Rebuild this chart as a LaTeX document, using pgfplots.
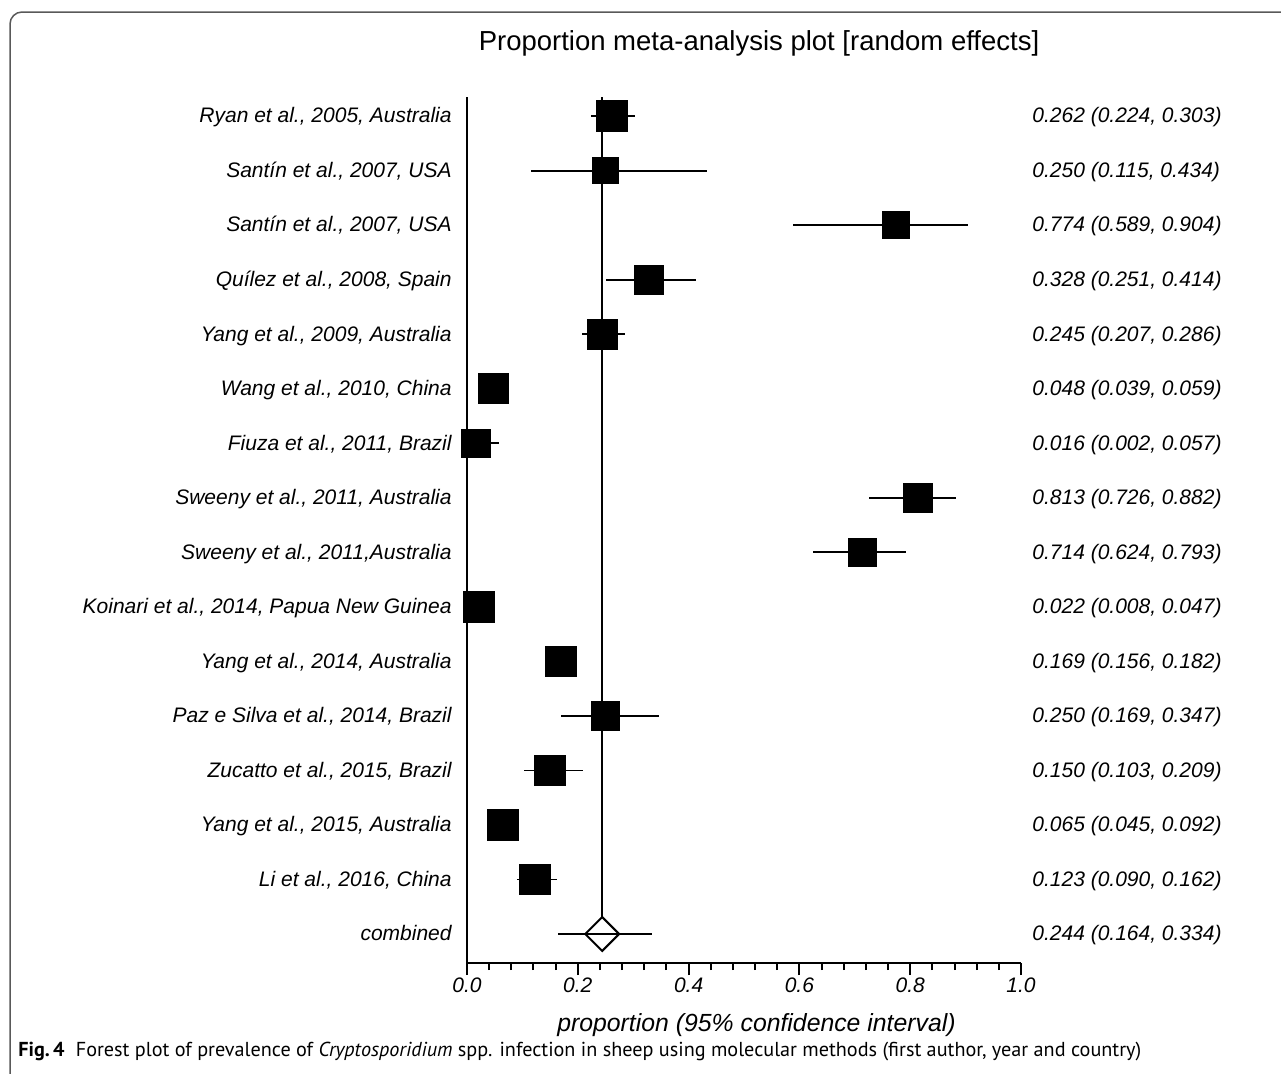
\documentclass[border=0pt]{standalone}
\usepackage{fontspec}
\setmainfont{Liberation Sans}
\newfontfamily\capfont{PT Sans}
\usepackage{pgfplots}
\pgfplotsset{compat=1.18}
\usepackage{pgfplotstable}

\pgfplotstableread{
y  est   lo    hi    s
16 0.262 0.224 0.303 7.70
15 0.250 0.115 0.434 6.45
14 0.774 0.589 0.904 6.65
13 0.328 0.251 0.414 7.25
12 0.245 0.207 0.286 7.55
11 0.048 0.039 0.059 7.55
10 0.016 0.002 0.057 7.15
9  0.813 0.726 0.882 7.25
8  0.714 0.624 0.793 7.15
7  0.022 0.008 0.047 7.70
6  0.169 0.156 0.182 7.65
5  0.250 0.169 0.347 7.15
4  0.150 0.103 0.209 7.65
3  0.065 0.045 0.092 7.65
2  0.123 0.090 0.162 7.70
}\studies

\pgfplotstableread{
y est   lo    hi
1 0.244 0.164 0.334
}\combined

\newcommand\lbl{\fontsize{10.5}{12.6}\selectfont\itshape}

\pgfplotsset{
  geom/.style={
    at={(233.5pt,-481.5pt)}, anchor=south west,
    scale only axis, width=277pt, height=433pt,
    xmin=0, xmax=1, ymin=0.468, ymax=16.35,
    clip=false,
  }
}

\begin{document}
\begin{tikzpicture}
\useasboundingbox (0pt,0pt) rectangle (640.5pt,-536.5pt);
\begin{scope}
\clip (0pt,0pt) rectangle (640.5pt,-536.5pt);
\draw[color=black!65, line width=0.75pt, rounded corners=6pt] (5pt,-560pt) -- (5pt,-6pt) -- (680pt,-6pt);
\end{scope}

% main axis
\begin{axis}[geom,
  axis x line*=bottom, axis y line*=left,
  axis line style={line width=1pt, black},
  ytick=\empty,
  xtick={0,0.2,0.4,0.6,0.8,1},
  minor x tick num=4,
  tick align=outside,
  major tick length=6pt, minor tick length=3.5pt,
  tick style={line width=1pt, black},
  xticklabel style={font=\lbl, inner sep=1pt},
  /pgf/number format/fixed,
  /pgf/number format/fixed zerofill,
  /pgf/number format/precision=1,
  /pgf/number format/assume math mode=true,
]
% confidence intervals
\addplot[draw=none, mark=none,
  error bars/.cd, x dir=both, x explicit, error mark=none,
  error bar style={draw=black, line width=0.9pt}]
  table[x=est, y=y,
        x error plus expr=\thisrow{hi}-\thisrow{est},
        x error minus expr=\thisrow{est}-\thisrow{lo}] {\studies};
\addplot[draw=none, mark=none,
  error bars/.cd, x dir=both, x explicit, error mark=none,
  error bar style={draw=black, line width=0.9pt}]
  table[x=est, y=y,
        x error plus expr=\thisrow{hi}-\thisrow{est},
        x error minus expr=\thisrow{est}-\thisrow{lo}] {\combined};
% vertical line at pooled estimate
\addplot[black, line width=1pt, mark=none] coordinates {(0.244,16.35) (0.244,1.311)};
% study boxes
\addplot[scatter, only marks, mark=square*,
  scatter/use mapped color={draw=black, fill=black},
  visualization depends on={\thisrow{s} \as \msz},
  scatter/@pre marker code/.append style={/tikz/mark size=\msz},
  mark options={line width=0.4pt, rounded corners=0.8pt}]
  table[x=est, y=y] {\studies};
% pooled diamond
\addplot[only marks, mark=square, mark size=6pt,
  mark options={rotate=45, draw=black, line width=1pt, fill=none}]
  table[x=est, y=y] {\combined};
\end{axis}

% left labels
\begin{axis}[geom,
  axis line style={draw=none}, xtick=\empty,
  major tick length=0pt,
  ytick={1,...,16},
  yticklabel style={font=\lbl, anchor=base east, inner sep=0pt, xshift=-7.5pt, yshift=-3.4pt},
  yticklabels={{combined},{Li et al., 2016, China},{Yang et al., 2015, Australia},{Zucatto et al., 2015, Brazil},{Paz e Silva et al., 2014, Brazil},{Yang et al., 2014, Australia},{Koinari et al., 2014, Papua New Guinea},{Sweeny et al., 2011,Australia},{Sweeny et al., 2011, Australia},{Fiuza et al., 2011, Brazil},{Wang et al., 2010, China},{Yang et al., 2009, Australia},{Quílez et al., 2008, Spain},{Santín et al., 2007, USA},{Santín et al., 2007, USA},{Ryan et al., 2005, Australia}},
]
\end{axis}

% right labels
\begin{axis}[geom,
  axis line style={draw=none}, xtick=\empty,
  major tick length=0pt,
  ytick={1,...,16},
  yticklabel pos=right,
  yticklabel style={font=\lbl, anchor=base west, inner sep=0pt, xshift=5.5pt, yshift=-3.4pt},
  yticklabels={{0.244 (0.164, 0.334)},{0.123 (0.090, 0.162)},{0.065 (0.045, 0.092)},{0.150 (0.103, 0.209)},{0.250 (0.169, 0.347)},{0.169 (0.156, 0.182)},{0.022 (0.008, 0.047)},{0.714 (0.624, 0.793)},{0.813 (0.726, 0.882)},{0.016 (0.002, 0.057)},{0.048 (0.039, 0.059)},{0.245 (0.207, 0.286)},{0.328 (0.251, 0.414)},{0.774 (0.589, 0.904)},{0.250 (0.115, 0.434)},{0.262 (0.224, 0.303)}},
]
\end{axis}

% title, x label, caption
\node[anchor=base, inner sep=0pt, font=\fontsize{13.75}{16}\selectfont] at (379.5pt,-25pt) {Proportion meta-analysis plot [random effects]};
\node[anchor=base, inner sep=0pt, font=\fontsize{12.4}{15}\selectfont\itshape] at (378.25pt,-515.5pt) {proportion (95\% confidence interval)};
\node[anchor=base west, inner sep=0pt, font=\capfont\fontsize{10.1}{12}\selectfont] at (9pt,-528pt) {\textbf{Fig.\,4}\hspace{0.55em}Forest plot of prevalence of \textit{Cryptosporidium} spp. infection in sheep using molecular methods (first author, year and country)};
\end{tikzpicture}
\end{document}
